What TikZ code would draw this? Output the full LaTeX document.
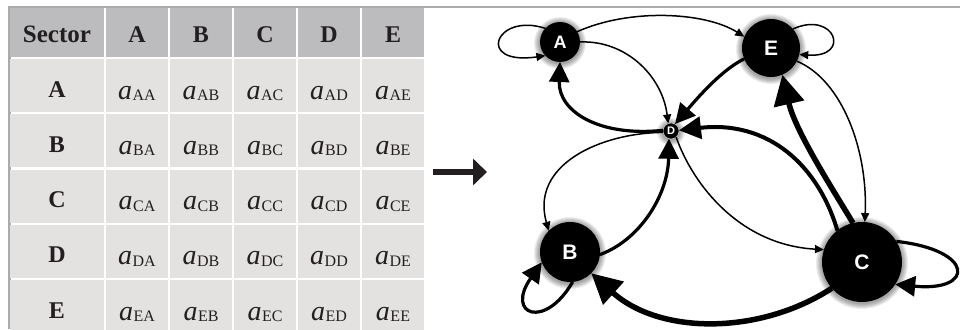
\documentclass[tikz,border=0pt]{standalone}
\usepackage{fontspec}
\setmainfont{Liberation Serif}
\newfontfamily\lblfont{Liberation Sans}
\usetikzlibrary{arrows.meta}

\definecolor{ink}{HTML}{231F20}
\definecolor{headgrey}{HTML}{BCBCBE}
\definecolor{cellgrey}{HTML}{E4E1E1}
\definecolor{rulegrey}{HTML}{ABABAB}

% matrix entry a_{XY}
\newcommand\aent[1]{{\fontsize{28}{28}\selectfont\itshape a}\kern0.5pt\raisebox{-1.5pt}{\fontsize{16}{16}\selectfont #1}}

\tikzset{
  cell/.style={rectangle, inner sep=0pt, outer sep=0pt, anchor=north west},
  headcell/.style={cell, fill=headgrey, minimum height=49pt},
  bodycell/.style={cell, fill=cellgrey, minimum height=53pt},
  headtext/.style={anchor=base, inner sep=0pt, text=ink, font=\fontsize{24}{24}\selectfont\bfseries},
  rowtext/.style={anchor=base, inner sep=0pt, text=ink, font=\fontsize{24}{24}\selectfont\bfseries},
  entrytext/.style={anchor=base, inner sep=0pt, text=ink},
  sector/.style={circle, fill=black, text=white, inner sep=0pt, outer sep=0pt},
  lightedge/.style={line width=1.5pt, -{Triangle[length=9pt,width=8pt]}},
  midedge/.style={line width=3.2pt, -{Triangle[length=20pt,width=20pt]}},
  boldedge/.style={line width=4pt, -{Triangle[length=22pt,width=22pt]}},
  heavyedge/.style={line width=5.5pt, -{Triangle[length=30pt,width=30pt]}},
}

\begin{document}
\begin{tikzpicture}[x=1pt,y=-1pt]
\useasboundingbox (0,0) rectangle (960,329);

% frame rules
\fill[rulegrey] (8,6) rectangle (960,8);
\fill[rulegrey] (8,6) rectangle (10.5,329);

% table header
\node[headcell, minimum width=94pt] (hS) at (10,8) {};
\node[headtext, font=\fontsize{25}{25}\selectfont\bfseries] (hlS) at (57,43) {Sector};
\foreach \c/\x in {A/106,B/170,C/234,D/298,E/362} {
  \node[headcell, minimum width=62pt] (h\c) at (\x,8) {};
  \node[headtext] (hl\c) at (\x+31,43) {\c};
}

% table body
\foreach \r/\y in {A/59,B/114.25,C/169.5,D/224.75,E/280} {
  \node[bodycell, minimum width=94pt] (r\r) at (10,\y) {};
  \node[rowtext] (rl\r) at (57,\y+38) {\r};
  \foreach \c/\x in {A/106,B/170,C/234,D/298,E/362} {
    \node[bodycell, minimum width=62pt] (c\r\c) at (\x,\y) {};
    \node[entrytext] (e\r\c) at (\x+31,\y+40) {\aent{\r\c}};
  }
}

% table-to-network arrow
\coordinate (flowS) at (433,172);
\coordinate (flowE) at (487,172);
\draw[ink, line width=6pt, -{Triangle[length=14pt,width=26pt]}] (flowS) -- (flowE);

% soft glow under the sector nodes
\foreach \px/\py/\rr in {560/42/20, 771/48/29, 671/131/8, 570/252/30, 862/262/40} {
  \foreach \k in {1,...,6} {
    \fill[black, opacity=0.07] (\px,\py+1) circle[radius=\rr+\k];
  }
}

% sector nodes
\node[sector, minimum size=40pt, font=\lblfont\bfseries\fontsize{18}{18}\selectfont] (A) at (560,42) {A};
\node[sector, minimum size=58pt, font=\lblfont\bfseries\fontsize{21}{21}\selectfont] (E) at (771,48) {E};
\node[sector, minimum size=16pt, draw=white!75!black, line width=0.6pt, font=\lblfont\bfseries\fontsize{11}{11}\selectfont] (D) at (671,131) {D};
\node[sector, minimum size=60pt, font=\lblfont\bfseries\fontsize{21}{21}\selectfont] (B) at (570,252) {B};
\node[sector, minimum size=80pt, font=\lblfont\bfseries\fontsize{21}{21}\selectfont] (C) at (862,262) {C};

% flows between sectors
\draw[lightedge] (A.137) .. controls (495,12) and (475,66) .. (A.223);
\draw[lightedge] (A.31) .. controls (630,8) and (705,12) .. (E.157);
\draw[lightedge] (A.0) .. controls (625,40) and (662,75) .. (D.110);
\draw[midedge] (D.175) .. controls (600,137) and (558,112) .. (A.270);
\draw[midedge] (E.202) .. controls (722,70) and (700,95) .. (D.60);
\draw[boldedge] (C.128) .. controls (818,165) and (768,120) .. (D.5);
\draw[heavyedge] (C.103) .. controls (830,185) and (795,130) .. (E.293);
\draw[lightedge] (E.333) .. controls (842,80) and (868,150) .. (C.86);
\draw[lightedge] (E.41) .. controls (835,10) and (852,58) .. (E.347);
\draw[lightedge] (D.-50) .. controls (693,185) and (740,245) .. (C.162);
\draw[midedge] (B.-5) .. controls (640,240) and (668,195) .. (D.255);
\draw[lightedge] (D.190) .. controls (600,133) and (530,165) .. (B.135);
\draw[midedge] (B.-85) .. controls (545,330) and (505,315) .. (B.200);
\draw[heavyedge] (C.221) .. controls (760,335) and (660,335) .. (B.-45);
\draw[midedge] (C.31) .. controls (975,250) and (975,292) .. (C.326);
\end{tikzpicture}
\end{document}
